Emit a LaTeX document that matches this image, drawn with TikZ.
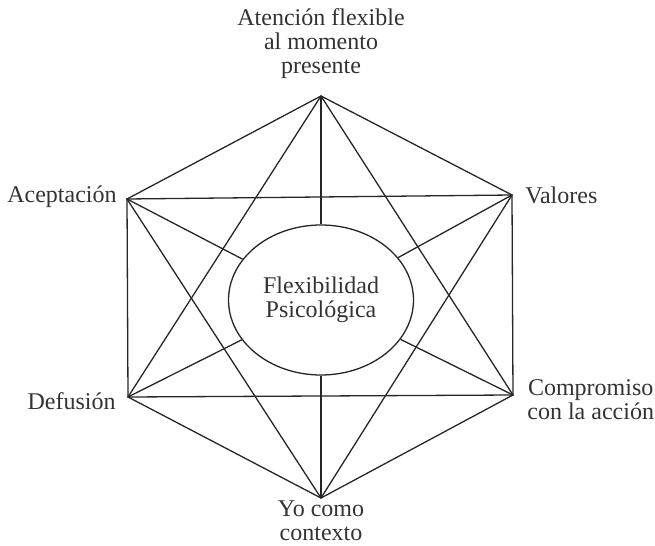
\documentclass[tikz,border=0pt]{standalone}
\usepackage{fontspec}
\setmainfont{Liberation Serif}
\usetikzlibrary{shapes.geometric}

\begin{document}
\begin{tikzpicture}[x=0.5pt, y=-0.5pt,
    every node/.style={font=\fontsize{12}{12}\selectfont, text=black!80},
    edge/.style={draw=black!85, line width=0.65pt},
    lbl/.style={inner sep=0pt, align=center}]
      \useasboundingbox (0,0) rectangle (655,546);

      % HEXAGON CORNERS
      \coordinate (atencion) at (321,96);
      \coordinate (valores) at (512,195);
      \coordinate (compromiso) at (513,395);
      \coordinate (yo) at (321,498);
      \coordinate (defusion) at (128,397);
      \coordinate (aceptacion) at (127,199);

      % Centre
      \node[ellipse, edge, align=center, inner sep=0pt, minimum width=92.5pt, minimum height=75pt] (flex) at (321,300) {Flexibilidad\\Psicológica};

      % Outline and the two triangles
      \draw[edge] (atencion) -- (valores) -- (compromiso) -- (yo) -- (defusion) -- (aceptacion) -- cycle;
      \draw[edge] (atencion) -- (compromiso) -- (defusion) -- cycle;
      \draw[edge] (yo) -- (aceptacion) -- (valores) -- cycle;

      % Spokes to the centre
      \foreach \v in {atencion, valores, compromiso, yo, defusion, aceptacion}
        \draw[edge] (\v) -- (flex);

      % Labels
      \node[lbl] (latencion) at (321,44) {Atención flexible\\al momento\\presente};
      \node[lbl, anchor=east] (laceptacion) at (117,197) {Aceptación};
      \node[lbl, anchor=west] (lvalores) at (525,195) {Valores};
      \node[lbl, anchor=east] (ldefusion) at (116,401) {Defusión};
      \node[lbl, anchor=west] (lcompromiso) at (527,400) {Compromiso\\con la acción};
      \node[lbl] (lyo) at (321,521) {Yo como\\contexto};
    \end{tikzpicture}
\end{document}
